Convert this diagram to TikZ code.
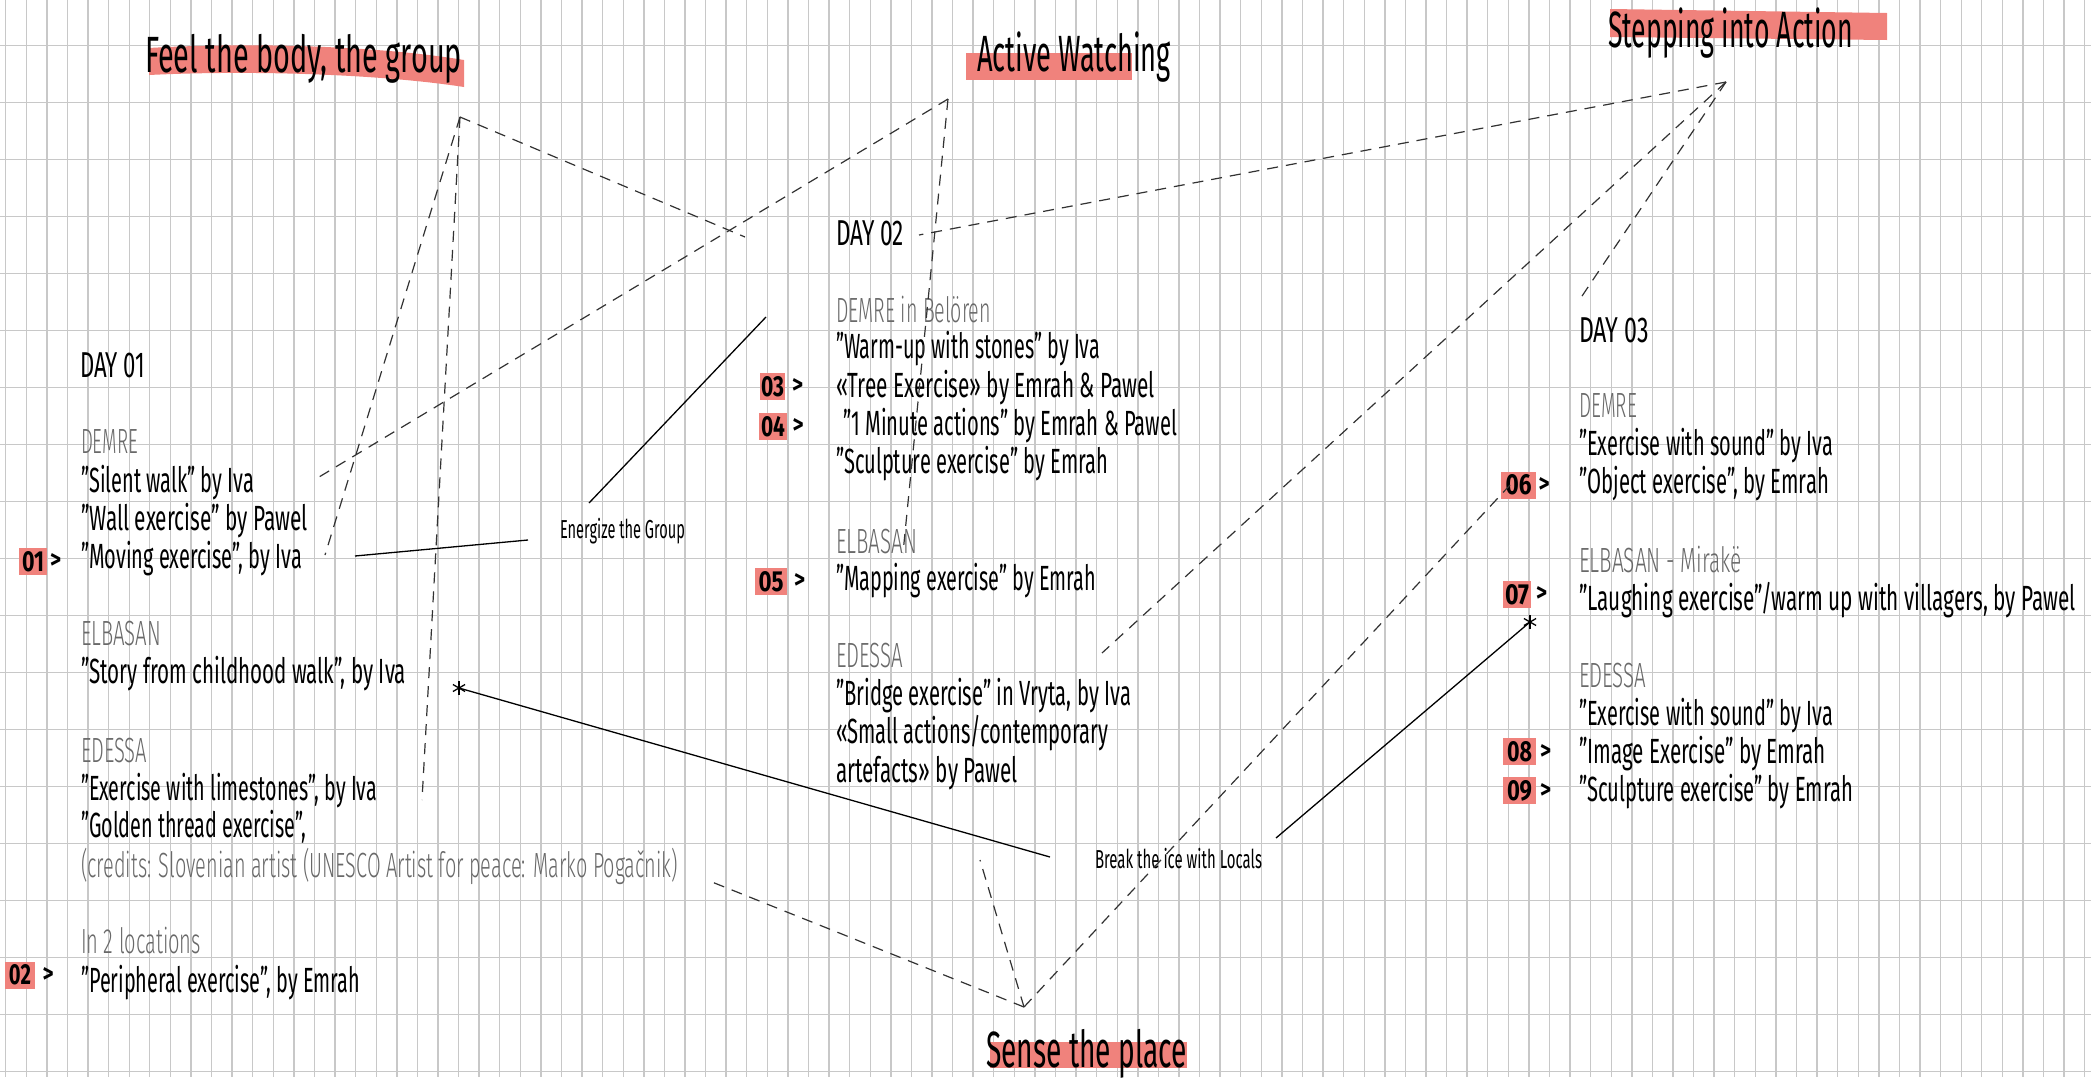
\documentclass[tikz,border=0pt]{standalone}
\usepackage{fontspec}
\setmainfont{Fira Sans}
\newfontfamily\lightf{Fira Sans Light}
\usepackage{graphicx}
\definecolor{hl}{RGB}{240,130,124}
\definecolor{gridc}{RGB}{200,200,200}
\definecolor{greyt}{RGB}{105,105,105}
\definecolor{dashc}{RGB}{50,50,50}
\newcommand{\FitW}[2]{\resizebox{#1pt}{\height}{#2}}
\tikzset{
  txt/.style={anchor=base west, inner sep=0pt, outer sep=0pt, text=black, font=\fontsize{35}{40}\selectfont},
  loc/.style={txt, text=greyt, font={\lightf\fontsize{35}{40}\selectfont}},
  dayhead/.style={txt, font=\fontsize{36}{40}\selectfont},
  ttl/.style={txt, font=\fontsize{51}{56}\selectfont},
  lbl/.style={txt, font=\fontsize{26}{30}\selectfont},
  numbox/.style={fill=hl, draw=none, inner sep=0pt, minimum width=#1pt, minimum height=27pt, font=\fontsize{29}{30}\selectfont\bfseries},
  chev/.style={anchor=center, inner sep=0pt, font=\fontsize{26}{30}\selectfont\bfseries},
  gridline/.style={draw=gridc, line width=1.4pt},
  dl/.style={draw=dashc, line width=1.2pt, dash pattern=on 11pt off 8pt},
  sl/.style={draw=black, line width=1.3pt},
  star/.style={draw=black, line width=1.3pt}
}
\begin{document}
\begin{tikzpicture}[x=1pt, y=-1pt]
\useasboundingbox (0,0) rectangle (2091,1077);
\fill[white] (0,0) rectangle (2091,1077);
% grid
\foreach \i in {0,...,101} \draw[gridline] ({5.7+20.584*\i},0) -- ({5.7+20.584*\i},1077);
\foreach \j in {0,...,18} \draw[gridline] (0,{45.7+57*\j}) -- (2091,{45.7+57*\j});

% title highlights
\fill[hl] (149,48) .. controls (250,42) and (380,46) .. (464,60) -- (464,87) .. controls (380,74) and (250,70) .. (149,75) -- cycle;
\fill[hl] (966,53) rectangle (1132,80);
\fill[hl] (1610,9) -- (1887,13) -- (1887,40) -- (1610,37) -- cycle;
\fill[hl] (990,1042) rectangle (1187,1068);

% titles
\node[ttl] (tFeel) at (145,72) {\FitW{317}{Feel the body, the group}};
\node[ttl] (tActive) at (977,71) {\FitW{194}{Active Watching}};
\node[ttl] (tStep) at (1608,47) {\FitW{245}{Stepping into Action}};
\node[ttl] (tSense) at (986,1067) {\FitW{201}{Sense the place}};

% DAY 01
\node[dayhead] (d1) at (80,377) {\FitW{65}{DAY 01}};
\node[loc] (d1l1) at (81,453) {\FitW{57}{DEMRE}};
\node[txt] (d1a) at (81,492) {\FitW{173}{"Silent walk" by Iva}};
\node[txt] (d1b) at (81,530) {\FitW{227}{"Wall exercise" by Pawel}};
\node[txt] (d1c) at (81,568) {\FitW{221}{"Moving exercise", by Iva}};
\node[loc] (d1l2) at (81,645) {\FitW{80}{ELBASAN}};
\node[txt] (d1d) at (81,683) {\FitW{325}{"Story from childhood walk", by Iva}};
\node[loc] (d1l3) at (81,762) {\FitW{66}{EDESSA}};
\node[txt] (d1e) at (81,800) {\FitW{296}{"Exercise with limestones", by Iva}};
\node[txt] (d1f) at (81,837) {\FitW{225}{"Golden thread exercise",}};
\node[loc] (d1g) at (81,877) {\FitW{597}{(credits: Slovenian artist (UNESCO Artist for peace: Marko Pogačnik)}};
\node[loc] (d1l4) at (81,953) {\FitW{120}{In 2 locations}};
\node[txt] (d1h) at (81,992) {\FitW{279}{"Peripheral exercise", by Emrah}};

% DAY 02
\node[dayhead] (d2) at (836,245) {\FitW{68}{DAY 02}};
\node[loc] (d2l1) at (836,322) {\FitW{155}{DEMRE in Belören}};
\node[txt] (d2a) at (836,358) {\FitW{264}{"Warm-up with stones" by Iva}};
\node[txt] (d2b) at (836,397) {\FitW{319}{«Tree Exercise» by Emrah \& Pawel}};
\node[txt] (d2c) at (843,435) {\FitW{334}{"1 Minute actions" by Emrah \& Pawel}};
\node[txt] (d2d) at (836,473) {\FitW{272}{"Sculpture exercise" by Emrah}};
\node[loc] (d2l2) at (836,553) {\FitW{81}{ELBASAN}};
\node[txt] (d2e) at (836,590) {\FitW{260}{"Mapping exercise" by Emrah}};
\node[loc] (d2l3) at (836,667) {\FitW{67}{EDESSA}};
\node[txt] (d2f) at (836,705) {\FitW{295}{"Bridge exercise" in Vryta, by Iva}};
\node[txt] (d2g) at (836,743) {\FitW{272}{«Small actions/contemporary}};
\node[txt] (d2h) at (836,782) {\FitW{182}{artefacts» by Pawel}};

% DAY 03
\node[dayhead] (d3) at (1579,342) {\FitW{70}{DAY 03}};
\node[loc] (d3l1) at (1579,417) {\FitW{58}{DEMRE}};
\node[txt] (d3a) at (1579,455) {\FitW{254}{"Exercise with sound" by Iva}};
\node[txt] (d3b) at (1579,493) {\FitW{250}{"Object exercise", by Emrah}};
\node[loc] (d3l2) at (1579,572) {\FitW{163}{ELBASAN - Mirakë}};
\node[txt] (d3c) at (1579,610) {\FitW{497}{"Laughing exercise"/warm up with villagers, by Pawel}};
\node[loc] (d3l3) at (1579,687) {\FitW{67}{EDESSA}};
\node[txt] (d3d) at (1579,725) {\FitW{254}{"Exercise with sound" by Iva}};
\node[txt] (d3e) at (1579,763) {\FitW{247}{"Image Exercise" by Emrah}};
\node[txt] (d3f) at (1579,801) {\FitW{274}{"Sculpture exercise" by Emrah}};

% number markers
\node[numbox=28] (n01) at (33,561.5) {\FitW{22}{01}};
\node[chev] (c01) at (55.5,561.5) {\FitW{11}{>}};
\node[numbox=30] (n02) at (20,975) {\FitW{22}{02}};
\node[chev] (c02) at (48,975) {\FitW{11}{>}};
\node[numbox=25] (n03) at (772.5,386.5) {\FitW{23}{03}};
\node[chev] (c03) at (797.5,386.5) {\FitW{11}{>}};
\node[numbox=28] (n04) at (773,426.5) {\FitW{24}{04}};
\node[chev] (c04) at (798,426.5) {\FitW{11}{>}};
\node[numbox=32] (n05) at (771,581.5) {\FitW{25}{05}};
\node[chev] (c05) at (799.5,581.5) {\FitW{11}{>}};
\node[numbox=35] (n06) at (1518.5,485) {\FitW{26}{06}};
\node[chev] (c06) at (1544,485) {\FitW{11}{>}};
\node[numbox=28] (n07) at (1517,594.5) {\FitW{24}{07}};
\node[chev] (c07) at (1541.5,594.5) {\FitW{11}{>}};
\node[numbox=33] (n08) at (1519.5,751.5) {\FitW{25}{08}};
\node[chev] (c08) at (1545.5,751.5) {\FitW{11}{>}};
\node[numbox=33] (n09) at (1519.5,790.5) {\FitW{25}{09}};
\node[chev] (c09) at (1545.5,790.5) {\FitW{11}{>}};

% labels
\node[lbl] (lEn) at (560,538) {\FitW{125}{Energize the Group}};
\node[lbl] (lBr) at (1095,868) {\FitW{167}{Break the ice with Locals}};

% dashed connectors
\coordinate (F) at (460,117);
\coordinate (A) at (948,99);
\coordinate (S) at (1726,82);
\coordinate (P) at (1024,1007);
\coordinate (f1) at (325,555);
\coordinate (f2) at (422,800);
\coordinate (f3) at (745,237);
\coordinate (a1) at (319,477);
\coordinate (a2) at (903,553);
\coordinate (s1) at (919,235);
\coordinate (s2) at (1102,653);
\coordinate (s3) at (1578,302);
\coordinate (p1) at (712,882);
\coordinate (p2) at (980,860);
\coordinate (p3) at (1510,485);
\draw[dl] (F) -- (f1);
\draw[dl] (F) -- (f2);
\draw[dl] (F) -- (f3);
\draw[dl] (A) -- (a1);
\draw[dl] (A) -- (a2);
\draw[dl] (S) -- (s1);
\draw[dl] (S) -- (s2);
\draw[dl] (S) -- (s3);
\draw[dl] (P) -- (p1);
\draw[dl] (P) -- (p2);
\draw[dl] (P) -- (p3);

% solid connectors
\coordinate (e1) at (355,556);
\coordinate (e2) at (528,540);
\coordinate (e3) at (589,503);
\coordinate (e4) at (766,317);
\coordinate (k1) at (459,688);
\coordinate (k2) at (1050,857);
\coordinate (k3) at (1276,838);
\coordinate (k4) at (1530,622);
\draw[sl] (e1) -- (e2);
\draw[sl] (e3) -- (e4);
\draw[sl] (k1) -- (k2);
\draw[sl] (k3) -- (k4);
\foreach \c in {k1,k4} {
  \draw[star] (\c) ++(90:7) -- ++(270:14);
  \draw[star] (\c) ++(30:7) -- ++(210:14);
  \draw[star] (\c) ++(150:7) -- ++(330:14);
}
\end{tikzpicture}
\end{document}
